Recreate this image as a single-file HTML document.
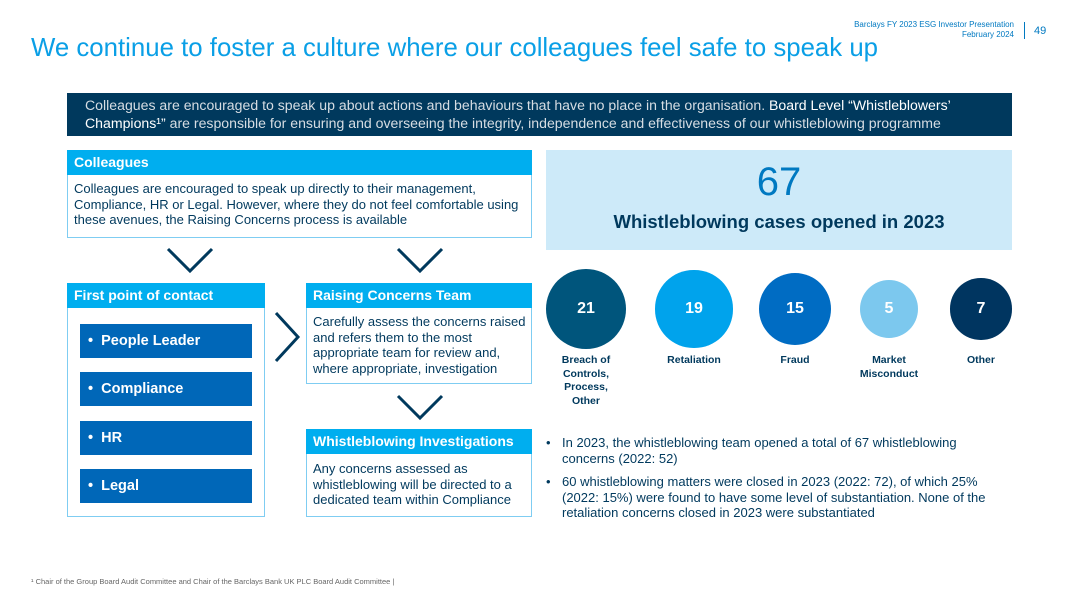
<!DOCTYPE html>
<html><head><meta charset="utf-8"><style>
body{margin:0;width:1080px;height:607px;background:#fff;font-family:"Liberation Sans",sans-serif;position:relative;overflow:hidden;color:#00395d}
.a{position:absolute}
.hd{background:#00aeef;color:#fff;font-weight:bold;font-size:14px;padding-left:7px;line-height:25px;box-sizing:border-box}
.bx{border:1.5px solid #7fcdf2;box-sizing:border-box}
.it{background:#0067b8;color:#fff;font-weight:bold;font-size:14.5px;line-height:34px;padding-left:8px;box-sizing:border-box;width:172px;height:34px;left:80px}
.tx{font-size:13px;line-height:15.5px;color:#00395d}
.lab{font-size:10.5px;font-weight:bold;color:#00395d;text-align:center;line-height:13.5px;width:90px}
</style></head><body>
<div class="a" style="right:66px;top:20px;font-size:8px;color:#0079c1;text-align:right;line-height:10px">Barclays FY 2023 ESG Investor Presentation<br>February 2024</div>
<div class="a" style="left:1024px;top:22px;width:1px;height:17px;background:#0079c1"></div>
<div class="a" style="left:1034px;top:25px;font-size:11px;color:#0079c1">49</div>
<div class="a" style="left:31px;top:34px;font-size:25.8px;color:#0a9fe6">We continue to foster a culture where our colleagues feel safe to speak up</div>
<div class="a" style="left:67px;top:93px;width:945px;height:43px;background:#00395d;color:#d6dde3;font-size:14.1px;line-height:18px;padding:3px 10px 0 18px;box-sizing:border-box">Colleagues are encouraged to speak up about actions and behaviours that have no place in the organisation. <span style="color:#fff">Board Level “Whistleblowers’ Champions¹”</span> are responsible for ensuring and overseeing the integrity, independence and effectiveness of our whistleblowing programme</div>

<div class="a bx" style="left:67px;top:150px;width:465px;height:88px"></div>
<div class="a hd" style="left:67px;top:150px;width:465px;height:25px">Colleagues</div>
<div class="a tx" style="left:74px;top:181px;width:455px">Colleagues are encouraged to speak up directly to their management, Compliance, HR or Legal. However, where they do not feel comfortable using these avenues, the Raising Concerns process is available</div>

<div class="a" style="left:546px;top:150px;width:466px;height:100px;background:#cdeaf9"></div>
<div class="a" style="left:546px;top:160px;width:466px;text-align:center;font-size:40px;color:#0079c1">67</div>
<div class="a" style="left:546px;top:211px;width:466px;text-align:center;font-size:18.5px;font-weight:bold;color:#00395d">Whistleblowing cases opened in 2023</div>

<svg class="a" style="left:0;top:0" width="1080" height="607">
<g fill="none" stroke="#00395d" stroke-width="3">
<polyline points="168,249 190,271 212,249"/>
<polyline points="398,249 420,271 442,249"/>
<polyline points="398,396 420,418 442,396"/>
<polyline points="276,313 298,337 276,361"/>
</g></svg>

<div class="a bx" style="left:67px;top:283px;width:198px;height:234px"></div>
<div class="a hd" style="left:67px;top:283px;width:198px;height:25px">First point of contact</div>
<div class="a it" style="top:324px">•&nbsp;&nbsp;People Leader</div>
<div class="a it" style="top:372px">•&nbsp;&nbsp;Compliance</div>
<div class="a it" style="top:421px">•&nbsp;&nbsp;HR</div>
<div class="a it" style="top:469px">•&nbsp;&nbsp;Legal</div>

<div class="a bx" style="left:306px;top:283px;width:226px;height:101px"></div>
<div class="a hd" style="left:306px;top:283px;width:226px;height:25px">Raising Concerns Team</div>
<div class="a tx" style="left:313px;top:314px;width:216px">Carefully assess the concerns raised and refers them to the most appropriate team for review and, where appropriate, investigation</div>

<div class="a bx" style="left:306px;top:429px;width:226px;height:88px"></div>
<div class="a hd" style="left:306px;top:429px;width:226px;height:25px">Whistleblowing Investigations</div>
<div class="a tx" style="left:313px;top:461px;width:216px">Any concerns assessed as whistleblowing will be directed to a dedicated team within Compliance</div>

<div id="bubbles"></div>

<div class="a tx" style="left:546px;top:435px;width:440px"><span style="position:absolute;left:0">•</span><div style="margin-left:16px">In 2023, the whistleblowing team opened a total of 67 whistleblowing concerns (2022: 52)</div></div>
<div class="a tx" style="left:546px;top:474px;width:450px"><span style="position:absolute;left:0">•</span><div style="margin-left:16px">60 whistleblowing matters were closed in 2023 (2022: 72), of which 25% (2022: 15%) were found to have some level of substantiation. None of the retaliation concerns closed in 2023 were substantiated</div></div>

<div class="a" style="left:31px;top:577px;font-size:7.5px;color:#666">¹ Chair of the Group Board Audit Committee and Chair of the Barclays Bank UK PLC Board Audit Committee |</div>

<script>
const categories=["Breach of<br>Controls,<br>Process,<br>Other","Retaliation","Fraud","Market<br>Misconduct","Other"];
const values=[21,19,15,5,7];
const colors=["#00557c","#00a3ec","#006cc3","#7cc8ee","#003560"];
const centersX=[586,694,795,889,981];
const cy=309;
function radius(v){return 26+0.66*v;}
const host=document.getElementById('bubbles');
values.forEach((v,i)=>{
  const r=radius(v);
  const c=document.createElement('div');
  
  
  c.className='a';
  c.style.cssText=`left:${centersX[i]-r}px;top:${cy-r}px;width:${2*r}px;height:${2*r}px;border-radius:50%;background:${colors[i]};color:#fff;font-weight:bold;font-size:16px;display:flex;align-items:center;justify-content:center`;
  c.textContent=v;
  host.appendChild(c);
  const l=document.createElement('div');
  
  
  l.className='a lab';
  l.style.left=(centersX[i]-45)+'px';
  l.style.top='354px';
  l.innerHTML=categories[i];
  host.appendChild(l);
});
</script>
</body></html>
